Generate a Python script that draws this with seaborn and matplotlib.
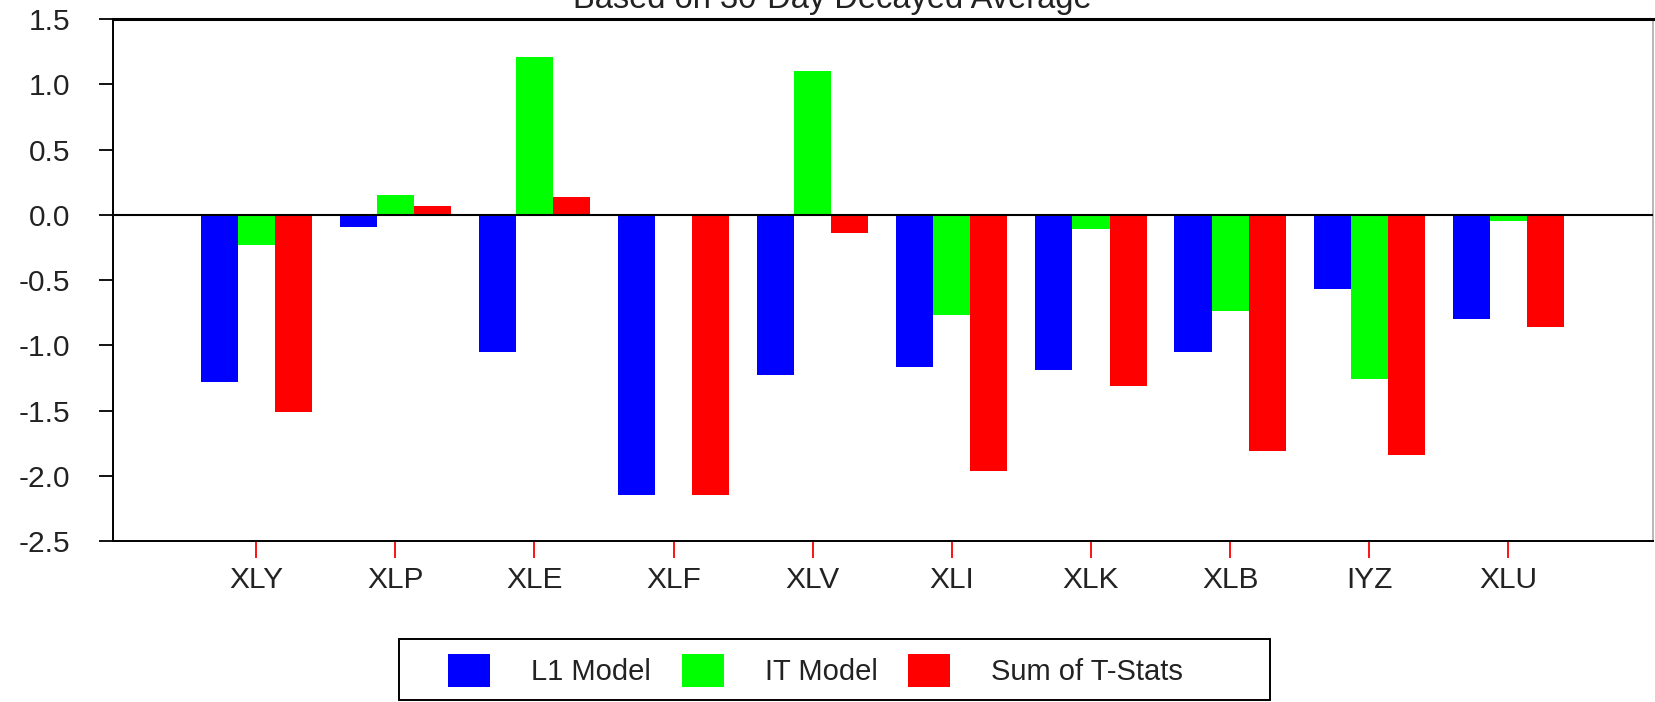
import pandas as pd
import matplotlib.pyplot as plt
import seaborn as sns
from matplotlib.patches import Rectangle

# --- dados ---
tickers = ['XLY', 'XLP', 'XLE', 'XLF', 'XLV', 'XLI', 'XLK', 'XLB', 'IYZ', 'XLU']
l1_model = [-1.28, -0.09, -1.05, -2.15, -1.23, -1.17, -1.19, -1.05, -0.57, -0.80]
it_model = [-0.23, 0.15, 1.21, 0.0, 1.10, -0.77, -0.11, -0.74, -1.26, -0.05]
sum_tstats = [-1.51, 0.07, 0.14, -2.15, -0.14, -1.96, -1.31, -1.81, -1.84, -0.86]
series_names = ['L1 Model', 'IT Model', 'Sum of T-Stats']
cores = ['#0000FF', '#00FF00', '#FF0000']

dados = pd.DataFrame({
    'ticker': tickers * 3,
    'valor': l1_model + it_model + sum_tstats,
    'modelo': [series_names[0]] * 10 + [series_names[1]] * 10 + [series_names[2]] * 10,
})

sns.set_theme(style="white")
plt.rcParams['font.family'] = ['Liberation Sans', 'DejaVu Sans']

fig = plt.figure(figsize=(16.56, 7.02), dpi=100)
ax = fig.add_axes([0.0682, 0.2293, 0.9300, 0.7436])

sns.barplot(data=dados, x='ticker', y='valor', hue='modelo', palette=cores,
            width=0.8, saturation=1, linewidth=0, ax=ax)

ax.axhline(0, color='black', lw=1.5, zorder=5)
ax.set_xlim(-1.03, 10.04)
ax.set_ylim(-2.5, 1.5)
ax.set_yticks([1.5, 1.0, 0.5, 0.0, -0.5, -1.0, -1.5, -2.0, -2.5])
ax.set_yticklabels(['%.1f' % v for v in ax.get_yticks()])
ax.set_xlabel('')
ax.set_ylabel('')

ax.tick_params(axis='y', direction='out', length=10, width=1.3, color='black',
               pad=21, labelsize=21.5, labelcolor='#222222', left=True)
ax.tick_params(axis='x', direction='out', length=12, width=1.3, color='red',
               pad=6, labelsize=21.5, labelcolor='#222222', bottom=True)

for lado in ['left', 'bottom', 'top']:
    ax.spines[lado].set_color('black')
    ax.spines[lado].set_linewidth(1.4)
ax.spines['top'].set_linewidth(2.2)
ax.spines['right'].set_color('#aaaaaa')
ax.spines['right'].set_linewidth(1.2)

# título cortado no topo, como no original
fig.text(0.5025, 1 - 8 / 702, 'Based on 30-Day Decayed Average', ha='center', va='baseline',
         fontsize=23.5, color='#222222')

handles, labels = ax.get_legend_handles_labels()
ax.get_legend().remove()
leg = fig.legend(handles, labels, loc='center', bbox_to_anchor=(0.4925, 0.0447), ncol=3,
                 fontsize=21, frameon=False,
                 handlelength=1.45, handleheight=1.4, handletextpad=1.4,
                 columnspacing=1.05, borderpad=0, borderaxespad=0)
for t in leg.get_texts():
    t.set_color('#222222')

# moldura da legenda
fig.patches.append(Rectangle((399 / 1656, 2 / 702), 871 / 1656, 61 / 702, transform=fig.transFigure,
                             fill=False, ec='black', lw=1.4))

plt.savefig('out.png', dpi=100)
